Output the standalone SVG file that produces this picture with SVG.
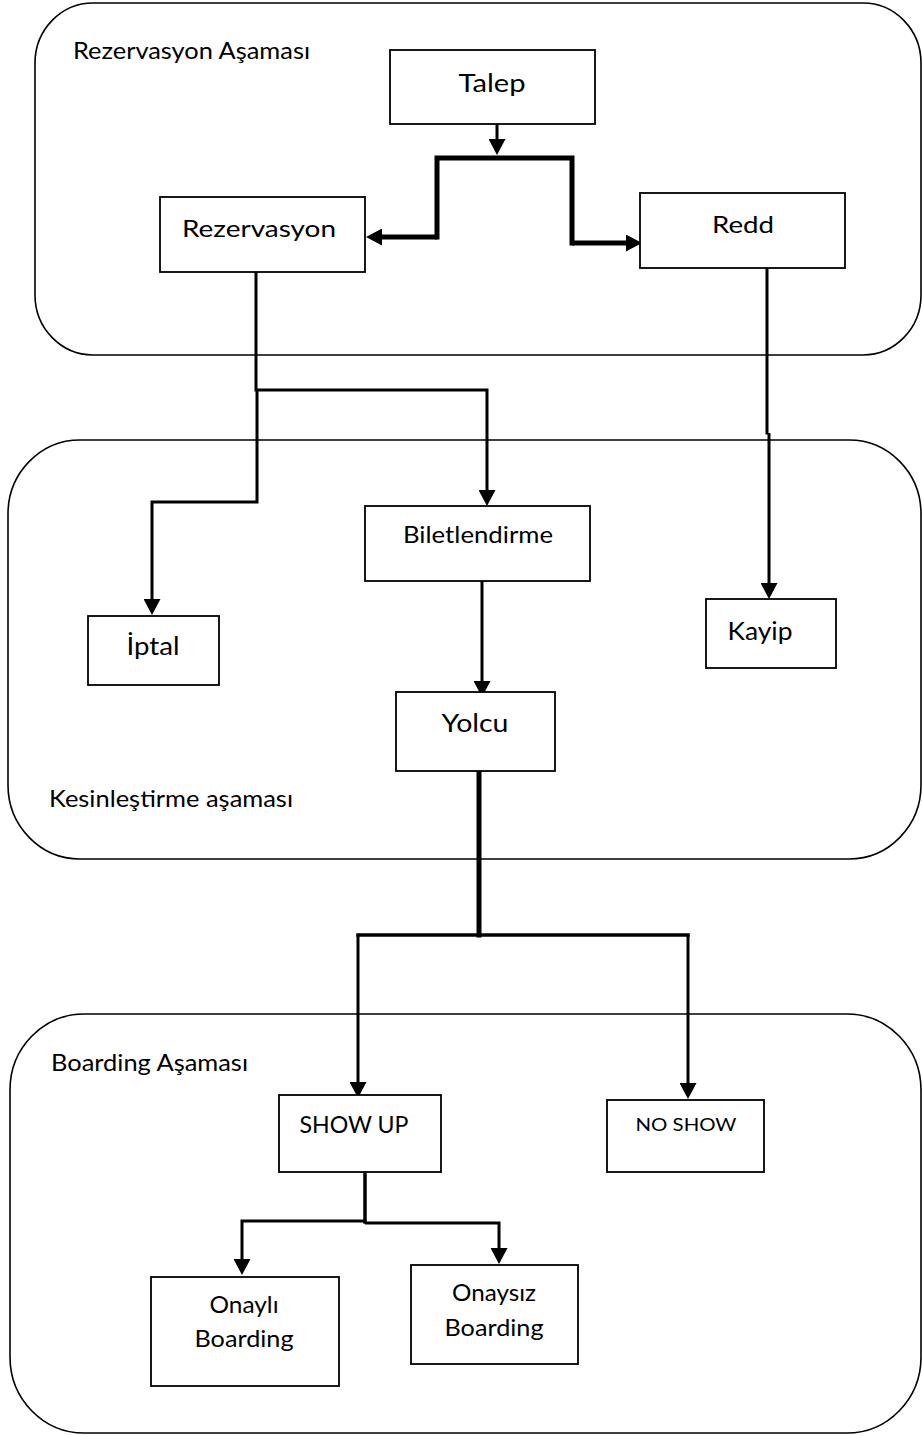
<svg xmlns="http://www.w3.org/2000/svg" width="922" height="1436" viewBox="0 0 922 1436">
<style>
.stage{fill:none;stroke:#000;stroke-width:1.6}
.box{fill:#fff;stroke:#000;stroke-width:1.8}
.t{font-family:Lato,"Open Sans","Liberation Sans",sans-serif;fill:#000;text-anchor:middle}
.lbl{font-family:Lato,"Open Sans","Liberation Sans",sans-serif;fill:#000}
.c{fill:none;stroke:#000;stroke-width:3;stroke-linecap:square;stroke-linejoin:miter}
.c5{fill:none;stroke:#000;stroke-width:5;stroke-linecap:square;stroke-linejoin:miter}
.ca{fill:none;stroke:#000;stroke-width:3;stroke-linejoin:miter;marker-end:url(#arr)}
</style>
<defs>
<marker id="arr" viewBox="0 0 16 17" refX="0" refY="8.5" markerWidth="16" markerHeight="17" markerUnits="userSpaceOnUse" orient="auto">
<path d="M0,0 L16,8.5 L0,17 z" fill="#000"/>
</marker>
</defs>
<rect width="922" height="1436" fill="#fff"/>

<g id="stage-rezervasyon">
<rect class="stage" x="35" y="3" width="886" height="352" rx="58" ry="60"/>
<text class="lbl" x="73" y="59" font-size="24" textLength="237" lengthAdjust="spacingAndGlyphs">Rezervasyon Aşaması</text>
</g>
<g id="stage-kesinlestirme">
<rect class="stage" x="8" y="440" width="913" height="419" rx="72" ry="74"/>
<text class="lbl" x="49" y="807" font-size="23" textLength="244" lengthAdjust="spacingAndGlyphs">Kesinleştirme aşaması</text>
</g>
<g id="stage-boarding">
<rect class="stage" x="10" y="1014" width="911" height="419" rx="74" ry="76"/>
<text class="lbl" x="51" y="1071" font-size="23" textLength="197" lengthAdjust="spacingAndGlyphs">Boarding Aşaması</text>
</g>

<g id="connectors">
<path class="ca" d="M497,124 L497,139"/>
<path class="c5" d="M437,237 L437,158 L572,158 L572,243"/>
<path class="ca" d="M437,237 L382,237" style="stroke-width:5"/>
<path class="ca" d="M572,243 L626,243" style="stroke-width:5"/>
<path class="c" d="M256,268 L256,390"/>
<path class="ca" d="M256,390 L487,390 L487,490"/>
<path class="ca" d="M257,390 L257,502 L152,502 L152,599"/>
<path class="c" d="M767,265 L767,433"/>
<path class="ca" d="M769,433 L769,583"/>
<path class="ca" d="M482,581 L482,681"/>
<path class="c5" d="M479,771 L479,935"/>
<path class="c" d="M358,935 L688,935" style="stroke-width:3.5"/>
<path class="ca" d="M358,935 L358,1082"/>
<path class="ca" d="M688,935 L688,1083"/>
<path class="c" d="M365,1174 L365,1222" style="stroke-width:3.5"/>
<path class="ca" d="M365,1221 L242,1221 L242,1259"/>
<path class="ca" d="M365,1223 L499,1223 L499,1248"/>
</g>

<g id="talep">
<rect class="box" x="390" y="50" width="205" height="74"/>
<text class="t" x="492" y="92" font-size="25" textLength="67" lengthAdjust="spacingAndGlyphs">Talep</text>
</g>
<g id="rezervasyon">
<rect class="box" x="160" y="197" width="205" height="75"/>
<text class="t" x="259" y="237" font-size="24" textLength="154" lengthAdjust="spacingAndGlyphs">Rezervasyon</text>
</g>
<g id="redd">
<rect class="box" x="640" y="193" width="205" height="75"/>
<text class="t" x="743" y="233" font-size="24" textLength="62" lengthAdjust="spacingAndGlyphs">Redd</text>
</g>
<g id="biletlendirme">
<rect class="box" x="365" y="506" width="225" height="75"/>
<text class="t" x="478" y="543" font-size="23" textLength="150" lengthAdjust="spacingAndGlyphs">Biletlendirme</text>
</g>
<g id="iptal">
<rect class="box" x="88" y="616" width="131" height="69"/>
<text class="t" x="153" y="655" font-size="25" textLength="53" lengthAdjust="spacingAndGlyphs">İptal</text>
</g>
<g id="kayip">
<rect class="box" x="706" y="599" width="130" height="69"/>
<text class="t" x="760" y="640" font-size="25" textLength="65" lengthAdjust="spacingAndGlyphs">Kayip</text>
</g>
<g id="yolcu">
<rect class="box" x="396" y="692" width="159" height="79"/>
<text class="t" x="475" y="732" font-size="25" textLength="67" lengthAdjust="spacingAndGlyphs">Yolcu</text>
</g>
<g id="showup">
<rect class="box" x="279" y="1095" width="162" height="77"/>
<text class="t" x="354" y="1133" font-size="23" textLength="109" lengthAdjust="spacingAndGlyphs">SHOW UP</text>
</g>
<g id="noshow">
<rect class="box" x="607" y="1100" width="157" height="72"/>
<text class="t" x="686" y="1131" font-size="18" textLength="101" lengthAdjust="spacingAndGlyphs">NO SHOW</text>
</g>
<g id="onayli">
<rect class="box" x="151" y="1277" width="188" height="109"/>
<text class="t" x="244" y="1313" font-size="24" textLength="69" lengthAdjust="spacingAndGlyphs">Onaylı</text>
<text class="t" x="244" y="1347" font-size="24" textLength="99" lengthAdjust="spacingAndGlyphs">Boarding</text>
</g>
<g id="onaysiz">
<rect class="box" x="411" y="1265" width="167" height="99"/>
<text class="t" x="494" y="1301" font-size="24" textLength="84" lengthAdjust="spacingAndGlyphs">Onaysız</text>
<text class="t" x="494" y="1336" font-size="24" textLength="99" lengthAdjust="spacingAndGlyphs">Boarding</text>
</g>
</svg>
